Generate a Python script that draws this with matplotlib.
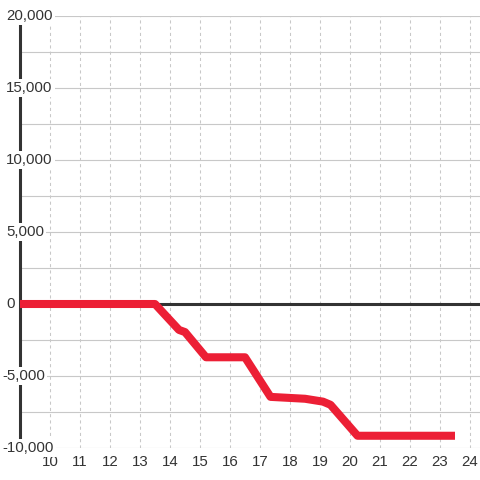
import matplotlib
matplotlib.use("Agg")
import matplotlib.pyplot as plt
import matplotlib.transforms as mtransforms
import numpy as np

plt.rcParams['font.family'] = ['Liberation Sans', 'DejaVu Sans']

# hour of day vs cumulative value
hours = [9, 13.5, 14.3, 14.5, 15.2, 16.5, 17.35, 18.5, 19.1, 19.35, 20.25, 23.5]
values = [0, 0, -1800, -1950, -3700, -3700, -6450, -6580, -6780, -7000, -9150, -9150]

x_ticks = list(range(10, 25))
y_grid = list(range(-10000, 20001, 2500))
y_labels = [20000, 15000, 10000, 5000, 0, -5000, -10000]

red = '#ec1f35'
dark = '#333333'
grid = '#c8c8c8'

fig = plt.figure(figsize=(4.8, 4.8), dpi=100)
ax = fig.add_axes([20 / 480, 32 / 480, 460 / 480, 432 / 480])
ax.set_xlim(9, 9 + 460 / 30)
ax.set_ylim(-10000, 20000)

for s in ['top', 'right', 'bottom']:
    ax.spines[s].set_visible(False)
ax.spines['left'].set_color(dark)
ax.spines['left'].set_linewidth(2.2)
ax.spines['left'].set_zorder(2.5)

# grid
ax.set_yticks(y_grid)
ax.set_yticklabels([])
ax.tick_params(axis='y', length=0)
for v in y_grid:
    ax.axhline(v, color=grid, lw=0.8, zorder=1)
for h in x_ticks:
    ax.axvline(h, color=grid, lw=0.75, dashes=(3, 3), zorder=1)

ax.set_xticks(x_ticks)
ax.set_xticklabels([str(h) for h in x_ticks], fontsize=10.8, color=dark)
ax.tick_params(axis='x', length=0, pad=5)

ax.axhline(0, color=dark, lw=2.2, zorder=2.6)

ax.plot(hours, values, color=red, lw=5.8, solid_joinstyle='round',
        solid_capstyle='butt', zorder=3)

# y labels, left aligned over the spine
tr = mtransforms.blended_transform_factory(fig.transFigure, ax.transData)
for v in y_labels:
    xpx = 2 if v < 0 else 6
    ax.text(xpx / 480, v, f"{v:,}", transform=tr,
            ha='left', va='center', fontsize=10.8, color=dark, zorder=4,
            clip_on=False,
            bbox=dict(boxstyle='square,pad=0.15', fc='white', ec='none'))

fig.savefig('out.png', dpi=100, facecolor='white')
